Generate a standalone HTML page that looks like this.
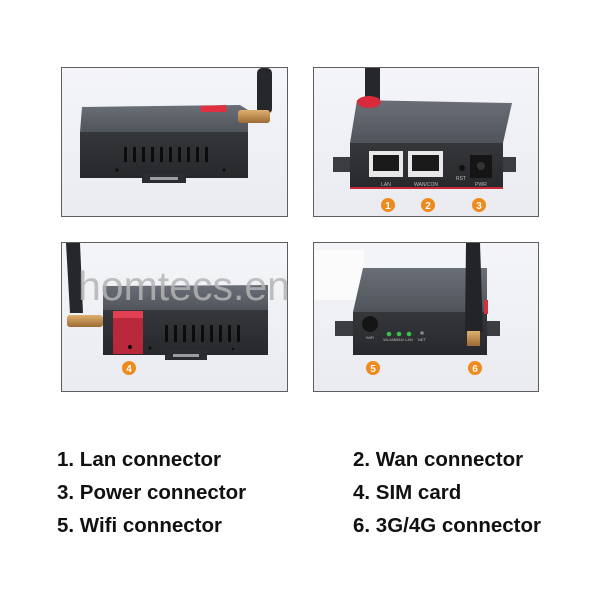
<!DOCTYPE html>
<html><head><meta charset="utf-8"><style>
html,body{margin:0;padding:0;background:#fff;}
body{width:600px;height:600px;overflow:hidden;position:relative;font-family:"Liberation Sans",sans-serif;}
svg{position:absolute;left:0;top:0;}
.t{position:absolute;font-weight:bold;font-size:20.5px;color:#111;white-space:nowrap;line-height:1;}
</style></head><body>
<svg width="600" height="600" viewBox="0 0 600 600" xmlns="http://www.w3.org/2000/svg">
<defs>
<linearGradient id="bg" x1="0" y1="0" x2="0" y2="1"><stop offset="0" stop-color="#f4f5f8"/><stop offset="1" stop-color="#e9ebf0"/></linearGradient>
<linearGradient id="top" x1="0" y1="0" x2="0" y2="1"><stop offset="0" stop-color="#6a6e76"/><stop offset="1" stop-color="#50545b"/></linearGradient>
<linearGradient id="front" x1="0" y1="0" x2="0" y2="1"><stop offset="0" stop-color="#35373b"/><stop offset="1" stop-color="#26282b"/></linearGradient>
<linearGradient id="gold" x1="0" y1="0" x2="0" y2="1"><stop offset="0" stop-color="#e0b070"/><stop offset="1" stop-color="#9c6a34"/></linearGradient>
</defs>
<!-- panel frames -->
<rect x="61.5" y="67.5" width="226" height="149" fill="url(#bg)" stroke="#5e5e5e"/>
<rect x="313.5" y="67.5" width="225" height="149" fill="url(#bg)" stroke="#5e5e5e"/>
<rect x="61.5" y="242.5" width="226" height="149" fill="url(#bg)" stroke="#5e5e5e"/>
<rect x="313.5" y="242.5" width="225" height="149" fill="url(#bg)" stroke="#5e5e5e"/>

<!-- PANEL 1 -->
<rect x="257" y="68" width="15" height="46" rx="5" fill="#25272a"/>
<polygon points="82,107 240,105 248,110 248,132 80,132" fill="url(#top)"/>
<polygon points="200,106 226,105 227,112 201,112" fill="#e03040"/>
<rect x="80" y="132" width="168" height="46" fill="url(#front)"/>
<g fill="#0c0c0d">
<rect x="124" y="147" width="3" height="15"/><rect x="133" y="147" width="3" height="15"/><rect x="142" y="147" width="3" height="15"/><rect x="151" y="147" width="3" height="15"/><rect x="160" y="147" width="3" height="15"/><rect x="169" y="147" width="3" height="15"/><rect x="178" y="147" width="3" height="15"/><rect x="187" y="147" width="3" height="15"/><rect x="196" y="147" width="3" height="15"/><rect x="205" y="147" width="3" height="15"/>
<circle cx="117" cy="170" r="1.5"/><circle cx="224" cy="170" r="1.5"/>
</g>
<rect x="142" y="173" width="44" height="10" fill="#2a2c2f"/>
<rect x="150" y="177" width="28" height="3" fill="#9a9ca0"/>
<rect x="238" y="110" width="32" height="13" rx="3" fill="url(#gold)"/>

<!-- PANEL 2 -->
<rect x="365" y="68" width="15" height="32" fill="#25272a"/>
<polygon points="357,100 512,103 503,143 350,143" fill="url(#top)"/>
<ellipse cx="369" cy="102" rx="12" ry="6" fill="#d82a3a"/>
<rect x="333" y="157" width="18" height="15" fill="#3a3c40"/><rect x="502" y="157" width="14" height="15" fill="#3a3c40"/>
<rect x="350" y="143" width="153" height="46" fill="url(#front)"/>
<rect x="350" y="187" width="153" height="2" fill="#c8283a"/>
<rect x="369" y="151" width="34" height="26" fill="#e8e8e8"/>
<rect x="373" y="155" width="26" height="16" fill="#1a1a1a"/>
<rect x="408" y="151" width="35" height="26" fill="#e8e8e8"/>
<rect x="412" y="155" width="27" height="16" fill="#1a1a1a"/>
<circle cx="462" cy="168" r="3" fill="#111"/>
<rect x="470" y="155" width="22" height="23" fill="#151515"/>
<circle cx="481" cy="166" r="4" fill="#333"/>
<g font-family="Liberation Sans" font-size="5" fill="#bbb" text-anchor="middle">
<text x="386" y="186">LAN</text><text x="426" y="186">WAN/CON</text><text x="461" y="180">RST</text><text x="481" y="186">PWR</text>
</g>
<g fill="#f08a1c"><circle cx="388" cy="205" r="7"/><circle cx="428" cy="205" r="7"/><circle cx="479" cy="205" r="7"/></g>
<g font-family="Liberation Sans" font-weight="bold" font-size="10" fill="#fff" text-anchor="middle">
<text x="388" y="209">1</text><text x="428" y="209">2</text><text x="479" y="209">3</text></g>

<!-- PANEL 3 -->
<polygon points="66,243 80,243 83,313 70,313" fill="#25272a"/>
<polygon points="103,286 268,285 268,310 103,310" fill="url(#top)"/>
<rect x="103" y="310" width="165" height="45" fill="url(#front)"/>
<rect x="113" y="311" width="30" height="43" fill="#b8283a"/>
<rect x="113" y="311" width="30" height="7" fill="#e04050"/>
<g fill="#0c0c0d">
<rect x="165" y="325" width="3" height="17"/><rect x="174" y="325" width="3" height="17"/><rect x="183" y="325" width="3" height="17"/><rect x="192" y="325" width="3" height="17"/><rect x="201" y="325" width="3" height="17"/><rect x="210" y="325" width="3" height="17"/><rect x="219" y="325" width="3" height="17"/><rect x="228" y="325" width="3" height="17"/><rect x="237" y="325" width="3" height="17"/>
<circle cx="130" cy="347" r="2"/><circle cx="150" cy="348" r="1.5"/><circle cx="233" cy="349" r="1.2"/>
</g>
<rect x="165" y="350" width="42" height="10" fill="#2a2c2f"/>
<rect x="173" y="354" width="26" height="3" fill="#9a9ca0"/>
<rect x="67" y="315" width="36" height="12" rx="3" fill="url(#gold)"/>
<text x="78" y="300" font-family="Liberation Sans" font-size="41" fill="#b4b4b4" fill-opacity="0.85">homtecs.en</text>
<circle cx="129" cy="368" r="7" fill="#f08a1c"/>
<text x="129" y="372" font-family="Liberation Sans" font-weight="bold" font-size="10" fill="#fff" text-anchor="middle">4</text>

<!-- PANEL 4 -->
<rect x="314" y="250" width="50" height="50" fill="#fbfbfc"/>
<polygon points="363,268 487,268 487,312 353,312" fill="url(#top)"/>
<rect x="335" y="321" width="20" height="15" fill="#3a3c40"/><rect x="486" y="321" width="14" height="15" fill="#3a3c40"/>
<rect x="353" y="312" width="134" height="43" fill="url(#front)"/>
<rect x="484" y="300" width="4" height="14" fill="#d03040"/>
<circle cx="370" cy="324" r="8" fill="#151515"/>
<g fill="#36c246"><circle cx="389" cy="334" r="2.3"/><circle cx="399" cy="334" r="2.3"/><circle cx="409" cy="334" r="2.3"/></g>
<circle cx="422" cy="333" r="1.8" fill="#888"/>
<g font-family="Liberation Sans" font-size="4" fill="#bbb" text-anchor="middle">
<text x="370" y="339">WiFi</text><text x="389" y="341">WLAN</text><text x="399" y="341">WAN</text><text x="409" y="341">LAN</text><text x="422" y="341">NET</text></g>
<polygon points="466,243 480,243 483,332 465,332" fill="#222427"/>
<rect x="467" y="331" width="13" height="15" fill="url(#gold)"/>
<g fill="#f08a1c"><circle cx="373" cy="368" r="7"/><circle cx="475" cy="368" r="7"/></g>
<g font-family="Liberation Sans" font-weight="bold" font-size="10" fill="#fff" text-anchor="middle">
<text x="373" y="372">5</text><text x="475" y="372">6</text></g>
</svg>
<div class="t" style="left:57px;top:450px">1. Lan connector</div>
<div class="t" style="left:57px;top:483px">3. Power connector</div>
<div class="t" style="left:57px;top:516px">5. Wifi connector</div>
<div class="t" style="left:353px;top:450px">2. Wan connector</div>
<div class="t" style="left:353px;top:483px">4. SIM card</div>
<div class="t" style="left:353px;top:516px">6. 3G/4G connector</div>
</body></html>
